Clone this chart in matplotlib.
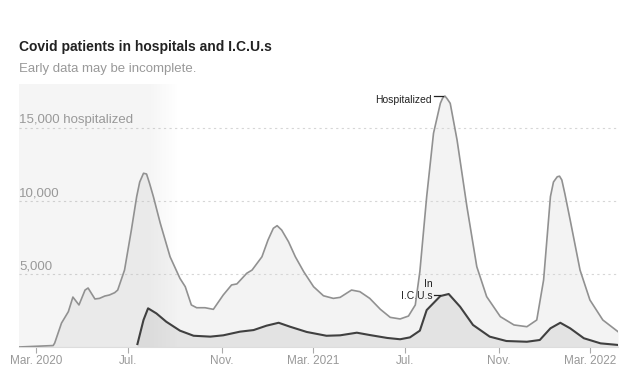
import numpy as np
import pandas as pd
import matplotlib
matplotlib.use("Agg")
import matplotlib.pyplot as plt
import matplotlib.dates as mdates

# hospitalized
hosp_dates = ["2020-02-08", "2020-03-06", "2020-03-24", "2020-03-26", "2020-04-04",
              "2020-04-13", "2020-04-19", "2020-04-27", "2020-05-05", "2020-05-09",
              "2020-05-18", "2020-05-24", "2020-05-31", "2020-06-06", "2020-06-13",
              "2020-06-17", "2020-06-26", "2020-07-05", "2020-07-12", "2020-07-16",
              "2020-07-21", "2020-07-25", "2020-07-29", "2020-08-03", "2020-08-12",
              "2020-08-25", "2020-09-07", "2020-09-14", "2020-09-22", "2020-09-29",
              "2020-10-10", "2020-10-21", "2020-11-03", "2020-11-14", "2020-11-21",
              "2020-12-04", "2020-12-11", "2020-12-24", "2021-01-01", "2021-01-08",
              "2021-01-13", "2021-01-19", "2021-01-28", "2021-02-06", "2021-02-17",
              "2021-03-02", "2021-03-15", "2021-03-28", "2021-04-06", "2021-04-21",
              "2021-05-02", "2021-05-15", "2021-05-29", "2021-06-11", "2021-06-24",
              "2021-07-05", "2021-07-14", "2021-07-20", "2021-07-29", "2021-08-07",
              "2021-08-16", "2021-08-19", "2021-08-22", "2021-08-25", "2021-08-29",
              "2021-09-07", "2021-09-20", "2021-10-03", "2021-10-16", "2021-11-03",
              "2021-11-21", "2021-12-08", "2021-12-21", "2021-12-30", "2022-01-08",
              "2022-01-12", "2022-01-17", "2022-01-20", "2022-01-23", "2022-01-27",
              "2022-02-03", "2022-02-16", "2022-03-01", "2022-03-18", "2022-04-07"]
hosp_values = [0, 60, 100, 270, 1640,
               2420, 3420, 2880, 3900, 4040,
               3290, 3330, 3490, 3560, 3720,
               3900, 5270, 8010, 10300, 11300,
               11900, 11850, 11200, 10300, 8490,
               6180, 4700, 4130, 2880, 2690,
               2690, 2580, 3560, 4250, 4320,
               5050, 5270, 6180, 7330, 8130,
               8310, 8010, 7210, 6180, 5160,
               4130, 3510, 3330, 3400, 3900,
               3790, 3330, 2580, 2030, 1920,
               2120, 2880, 5160, 10300, 14640,
               16690, 17050, 17190, 17000, 16690,
               14180, 9610, 5500, 3450, 2080,
               1510, 1390, 1850, 4590, 10300,
               11300, 11660, 11700, 11440, 10500,
               8700, 5270, 3220, 1850, 1050]

# in I.C.U.s
icu_dates = ["2020-07-13", "2020-07-21", "2020-07-27", "2020-08-07", "2020-08-20",
             "2020-09-07", "2020-09-25", "2020-10-17", "2020-11-03", "2020-11-25",
             "2020-12-13", "2020-12-30", "2021-01-15", "2021-01-30", "2021-02-21",
             "2021-03-19", "2021-04-06", "2021-04-28", "2021-05-15", "2021-06-07",
             "2021-06-24", "2021-07-07", "2021-07-20", "2021-07-29", "2021-08-16",
             "2021-08-27", "2021-09-11", "2021-09-28", "2021-10-20", "2021-11-11",
             "2021-12-08", "2021-12-25", "2022-01-08", "2022-01-21", "2022-02-03",
             "2022-02-21", "2022-03-15", "2022-04-07"]
icu_values = [200, 1850, 2650, 2300, 1730,
              1120, 770, 710, 800, 1050,
              1160, 1460, 1660, 1390, 1030,
              770, 800, 980, 820, 620,
              530, 660, 1120, 2530, 3490,
              3630, 2760, 1510, 710, 410,
              360, 480, 1280, 1660, 1280,
              600, 250, 140]

tick_dates = ["2020-03-01", "2020-07-01", "2020-11-01", "2021-03-01",
              "2021-07-01", "2021-11-01", "2022-03-01"]
tick_labels = ["Mar. 2020", "Jul.", "Nov.", "Mar. 2021", "Jul.", "Nov.", "Mar. 2022"]
grid_values = [5000, 10000, 15000]
grid_labels = ["5,000", "10,000", "15,000 hospitalized"]

plt.rcParams["font.family"] = ["Liberation Sans", "DejaVu Sans"]

hx = pd.to_datetime(hosp_dates)
ix = pd.to_datetime(icu_dates)

fig = plt.figure(figsize=(6.44, 3.88), dpi=100)
ax = fig.add_axes([19 / 644, 41 / 388, 599 / 644, 262.8 / 388])

x0 = pd.Timestamp("2020-02-08")
x1 = pd.Timestamp("2022-04-07")
ax.set_xlim(x0, x1)
ax.set_ylim(0, 18000)

ax.fill_between(hx, 0, hosp_values, color="#f3f3f3", lw=0, zorder=1)
ax.fill_between(ix, 0, icu_values, color="#e3e3e3", lw=0, zorder=2)

# "early data" shading with a soft right edge
w = 200
grad = np.ones(w)
fade = 40
grad[-fade:] = np.linspace(1, 0, fade)
shade = np.zeros((1, w, 4))
shade[..., :3] = 0.55
shade[..., 3] = grad * 0.09
ax.imshow(shade, extent=[mdates.date2num(x0), mdates.date2num(pd.Timestamp("2020-09-05")), 0, 18000],
          aspect="auto", zorder=3, interpolation="bilinear")

for v in grid_values:
    ax.axhline(v, color="#d6d6d6", lw=0.8, ls=(0, (2, 3)), zorder=2.5)

ax.plot(hx, hosp_values, color="#919191", lw=1.2, zorder=4, solid_joinstyle="round")
ax.plot(ix, icu_values, color="#404040", lw=1.5, zorder=5, solid_joinstyle="round")

for v, lab in zip(grid_values, grid_labels):
    ax.text(0, v + 120, lab, transform=ax.get_yaxis_transform(), color="#999999",
            fontsize=9.5, ha="left", va="bottom")

ax.set_xticks(pd.to_datetime(tick_dates))
ax.set_xticklabels(tick_labels, color="#999999", fontsize=8.5)
ax.tick_params(axis="x", length=4, color="#aaaaaa", width=0.8, pad=2)
ax.set_yticks([])
for s in ["top", "right", "left"]:
    ax.spines[s].set_visible(False)
ax.spines["bottom"].set_color("#dddddd")
ax.spines["bottom"].set_linewidth(0.8)

# labels with little leader lines
peak = pd.Timestamp("2021-08-22")
ax.plot([peak - pd.Timedelta(days=15), peak - pd.Timedelta(days=3)], [17190, 17190],
        color="#222222", lw=0.9, zorder=6)
ax.text(peak - pd.Timedelta(days=17), 16900, "Hospitalized", fontsize=7.5,
        color="#222222", ha="right", va="center")
ipeak = pd.Timestamp("2021-08-16")
ax.plot([ipeak - pd.Timedelta(days=9), ipeak - pd.Timedelta(days=1)], [3560, 3560],
        color="#222222", lw=0.9, zorder=6)
ax.text(ipeak - pd.Timedelta(days=10), 3500, "I.C.U.s", fontsize=7.5,
        color="#222222", ha="right", va="center")
ax.text(ipeak - pd.Timedelta(days=10), 4300, "In", fontsize=7.5,
        color="#222222", ha="right", va="center")

fig.text(19 / 644, 1 - 47 / 388, "Covid patients in hospitals and I.C.U.s",
         fontsize=10, fontweight="bold", color="#222222", va="center")
fig.text(19 / 644, 1 - 69 / 388, "Early data may be incomplete.",
         fontsize=9.5, color="#999999", va="center")

fig.savefig("out.png", dpi=100)
